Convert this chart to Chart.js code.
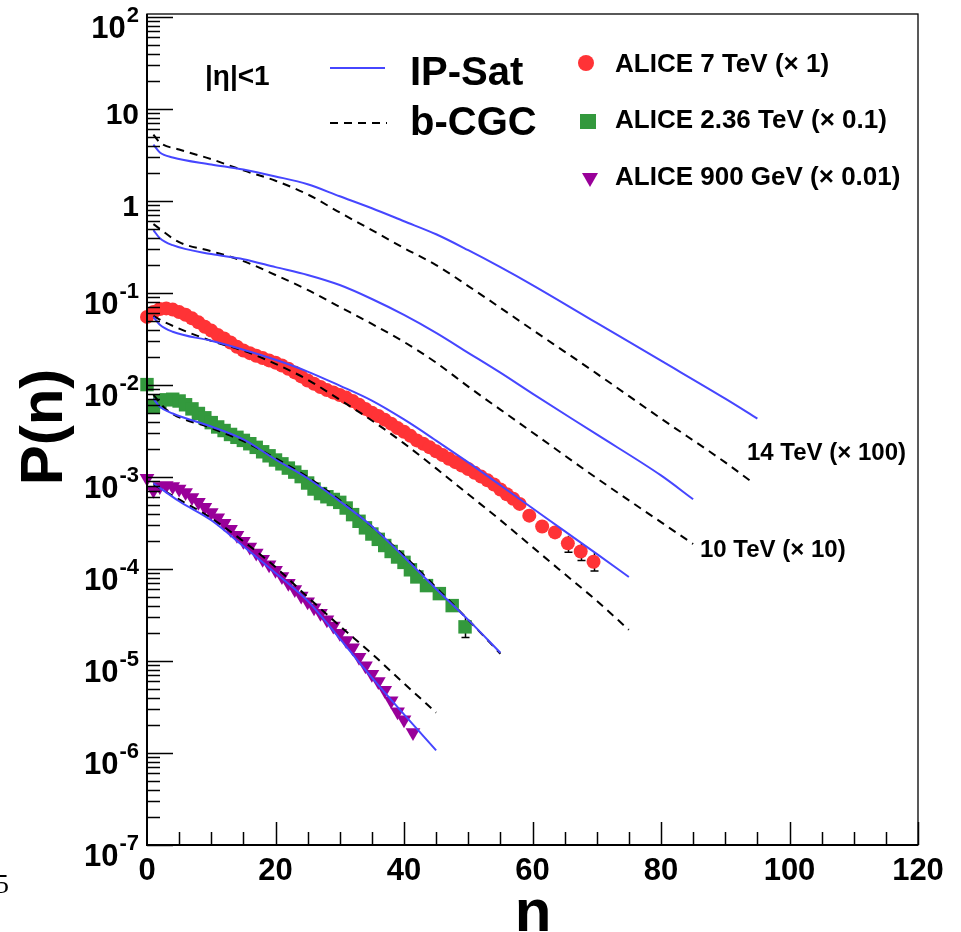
<!DOCTYPE html>
<html>
<head>
<meta charset="utf-8">
<script src="https://cdn.jsdelivr.net/npm/chart.js@4.4.1/dist/chart.umd.min.js"></script>
<style>
  html, body { margin: 0; padding: 0; background: #fff; }
  #wrap { width: 961px; height: 932px; position: relative; }
</style>
</head>
<body>
<div id="wrap"><canvas id="grafico"></canvas></div>
<script>
// Ejes
const xTicks = [0, 20, 40, 60, 80, 100, 120];
const yDecades = [-7, -6, -5, -4, -3, -2, -1, 0, 1, 2];

// IP-Sat y b-CGC, 14 TeV (x 100)
const nIpsat14 = [1, 2, 4, 10, 15, 20, 25, 30, 35, 40, 45, 50, 55, 60, 70, 80, 90, 95];
const ipsat14 = [4.1, 3.37, 2.97, 2.5, 2.2, 1.85, 1.52, 1.125, 0.834, 0.603, 0.435, 0.292, 0.191, 0.122, 0.0473, 0.01837, 0.00711, 0.00432];
const nBcgc14 = [1, 2, 5, 10, 15, 20, 25, 30, 35, 40, 45, 50, 60, 70, 80, 90, 94];
const bcgc14 = [5.27, 4.32, 3.63, 2.85, 2.15, 1.66, 1.18, 0.75, 0.482, 0.308, 0.201, 0.119, 0.0398, 0.0133, 0.00432, 0.00144, 0.000897];

// 10 TeV (x 10)
const nIpsat10 = [1, 2, 4, 10, 15, 20, 25, 30, 35, 40, 45, 50, 55, 60, 70, 80, 85];
const ipsat10 = [0.482, 0.394, 0.331, 0.265, 0.233, 0.191, 0.157, 0.122, 0.0861, 0.0578, 0.0369, 0.0224, 0.0136, 0.00805, 0.0029, 0.00104, 0.000573];
const nBcgc10 = [1, 5, 10, 15, 20, 25, 30, 35, 40, 45, 50, 55, 60, 70, 80, 85];
const bcgc10 = [0.56, 0.357, 0.285, 0.222, 0.157, 0.108, 0.0706, 0.0461, 0.0294, 0.0175, 0.0096, 0.0054, 0.00305, 0.00097, 0.000323, 0.000187];

// 7 TeV (x 1)
const nIpsat7 = [1, 2, 4, 10, 15, 20, 25, 30, 35, 40, 45, 50, 55, 60, 65, 70, 75];
const ipsat7 = [0.055, 0.0451, 0.0379, 0.0302, 0.0242, 0.0188, 0.014, 0.00984, 0.00676, 0.00422, 0.00249, 0.00144, 0.000813, 0.000458, 0.000258, 0.000146, 0.0000818];
const nBcgc7 = [1, 3, 10, 15, 20, 25, 30, 35, 40, 45, 50, 55, 60, 65, 70, 75];
const bcgc7 = [0.0564, 0.0473, 0.0302, 0.0236, 0.017, 0.0114, 0.00693, 0.00411, 0.00232, 0.00124, 0.000649, 0.00034, 0.000173, 0.0000883, 0.0000451, 0.0000218];

// 2.36 TeV (x 0.1)
const nIpsat236 = [1, 2, 4, 10, 15, 20, 25, 30, 35, 40, 45, 50, 55];
const ipsat236 = [7.1e-3, 5.8e-3, 4.9e-3, 3.54e-3, 2.56e-3, 1.55e-3, 9.7e-4, 5.46e-4, 2.92e-4, 1.35e-4, 6.06e-5, 2.8e-5, 1.23e-5];
const nBcgc236 = [1, 3, 10, 15, 20, 25, 30, 35, 40, 45, 50, 55];
const bcgc236 = [7.8e-3, 5.4e-3, 3.4e-3, 2.45e-3, 1.6e-3, 1.0e-3, 5.6e-4, 2.9e-4, 1.4e-4, 6.3e-5, 2.8e-5, 1.2e-5];

// 900 GeV (x 0.01)
const nModel900 = [1, 5, 10, 15, 20, 25, 30, 35, 40, 45];
const ipsat900 = [8.55e-4, 5.45e-4, 3.39e-4, 1.77e-4, 9.05e-5, 4.5e-5, 1.75e-5, 6.6e-6, 2.63e-6, 1.07e-6];
const bcgc900 = [8.3e-4, 5.7e-4, 3.57e-4, 2.0e-4, 1.05e-4, 4.97e-5, 2.41e-5, 1.2e-5, 5.7e-6, 2.75e-6];

// Datos ALICE
const nAlice7 = [0, 1, 2, 3, 4, 5, 6, 7, 8, 9, 10, 11, 12, 13, 14, 15, 16, 17, 18, 19,
  20, 21, 22, 23, 24, 25, 26, 27, 28, 29, 30, 31, 32, 33, 34, 35, 36, 37, 38, 39,
  40, 41, 42, 43, 44, 45, 46, 47, 48, 49, 50, 51, 52, 53, 54, 55, 56, 57, 58,
  59.5, 61.5, 63.5, 65.5, 67.5, 69.5];
const pAlice7 = [0.055, 0.062, 0.067, 0.068, 0.066, 0.062, 0.058, 0.053, 0.048, 0.043,
  0.039, 0.035, 0.032, 0.029, 0.026, 0.0237, 0.0222, 0.0208, 0.0196, 0.0185,
  0.0175, 0.0163, 0.0150, 0.0137, 0.0124, 0.0112, 0.0103, 0.0095, 0.0088, 0.0083,
  0.0078, 0.0073, 0.0067, 0.0061, 0.0055, 0.0050, 0.0046, 0.0042, 0.0038, 0.0034,
  0.0031, 0.0028, 0.0025, 0.0023, 0.0021, 0.0019, 0.00173, 0.00158, 0.00145, 0.00133,
  0.00122, 0.00111, 0.00101, 0.00092, 0.00083, 0.00073, 0.00065, 0.00058, 0.00051,
  0.00038, 0.00029, 0.00025, 0.00019, 0.000155, 0.00012];

const nAlice236 = [0, 1, 2, 3, 4, 5, 6, 7, 8, 9, 10, 11, 12, 13, 14, 15, 16, 17, 18, 19,
  20, 21, 22, 23, 24, 25, 26, 27, 28, 29, 30, 31, 32, 33, 34, 35, 36, 37, 38, 39,
  40, 41, 42, 43.5, 45.5, 47.5, 49.5];
const pAlice236 = [0.0101, 0.0058, 0.0066, 0.0069, 0.0070, 0.0067, 0.0061, 0.0055, 0.0049, 0.0044,
  0.0039, 0.0035, 0.0032, 0.0029, 0.0027, 0.0025, 0.0023, 0.0021, 0.00188, 0.00170,
  0.00153, 0.00139, 0.00125, 0.00113, 0.00101, 0.00086, 0.00074, 0.00066, 0.00061, 0.00057,
  0.00053, 0.00046, 0.00039, 0.00033, 0.00028, 0.00024, 0.00021, 0.00018, 0.000155, 0.000135,
  0.000118, 0.000098, 0.000082, 0.000066, 0.000054, 0.000040, 0.0000235];

const nAlice900 = [0, 1, 2, 3, 4, 5, 6, 7, 8, 9, 10, 11, 12, 13, 14, 15, 16, 17, 18, 19,
  20, 21, 22, 23, 24, 25, 26, 27, 28, 29, 30, 31, 32, 33, 34, 35, 36, 37, 38, 39, 40, 41.4];
const pAlice900 = [9.7e-4, 7.2e-4, 7.9e-4, 8.1e-4, 7.9e-4, 7.4e-4, 6.8e-4, 6.0e-4, 5.3e-4, 4.7e-4,
  4.1e-4, 3.6e-4, 3.15e-4, 2.7e-4, 2.33e-4, 2.0e-4, 1.73e-4, 1.49e-4, 1.28e-4, 1.11e-4,
  9.7e-5, 8.3e-5, 7.0e-5, 6.0e-5, 5.1e-5, 4.4e-5, 3.8e-5, 3.3e-5, 2.8e-5, 2.4e-5,
  2.0e-5, 1.67e-5, 1.39e-5, 1.1e-5, 8.9e-6, 7.2e-6, 6.0e-6, 4.8e-6, 3.7e-6, 2.8e-6, 2.3e-6, 1.67e-6];

// Barras de error visibles (últimos puntos)
const errN = [65.5, 67.5, 69.5, 49.5];
const errLo = [1.52e-4, 1.24e-4, 0.95e-4, 1.8e-5];
const errHi = [2.3e-4, 1.9e-4, 1.5e-4, 3.0e-5];

const AZUL = '#4646ff';
const ROJO = '#ff3336';
const VERDE = '#33993d';
const MORADO = '#990099';
const FUENTE = '"Liberation Sans", Arial, sans-serif';

function puntos(xs, ys) {
  return xs.map((x, i) => ({ x: x, y: ys[i] }));
}

function curva(xs, ys, discontinua) {
  return {
    data: puntos(xs, ys),
    showLine: true,
    borderColor: discontinua ? '#000' : AZUL,
    borderWidth: 2,
    borderDash: discontinua ? [8, 6] : [],
    pointRadius: 0,
    cubicInterpolationMode: 'monotone',
    fill: false
  };
}

function marcadores(xs, ys, color, estilo, radio, rotacion) {
  return {
    data: puntos(xs, ys),
    showLine: false,
    pointStyle: estilo,
    pointRadius: radio,
    pointRotation: rotacion,
    backgroundColor: color,
    borderColor: color,
    borderWidth: 0,
    clip: false
  };
}

// Marcos, ticks internos y textos al estilo ROOT
const marcoRoot = {
  id: 'marcoRoot',
  beforeDatasetsDraw(chart) {
    const { ctx, scales: { x, y } } = chart;
    ctx.save();
    ctx.strokeStyle = '#000';
    ctx.lineWidth = 1.5;
    ctx.beginPath();
    errN.forEach((n, i) => {
      const px = Math.round(x.getPixelForValue(n)) + 0.5;
      const lo = y.getPixelForValue(errLo[i]);
      const hi = y.getPixelForValue(errHi[i]);
      ctx.moveTo(px, lo); ctx.lineTo(px, hi);
      ctx.moveTo(px - 4, lo); ctx.lineTo(px + 4, lo);
    });
    ctx.stroke();
    ctx.restore();
  },
  afterDatasetsDraw(chart) {
    const { ctx, chartArea: a, scales: { x, y } } = chart;
    ctx.save();
    ctx.strokeStyle = '#000';
    ctx.lineWidth = 1.3;
    ctx.strokeRect(a.left, a.top, a.right - a.left, a.bottom - a.top);
    ctx.lineWidth = 2;
    ctx.beginPath();
    ctx.moveTo(a.left, a.top); ctx.lineTo(a.left, a.bottom); ctx.lineTo(a.right, a.bottom);
    ctx.stroke();

    ctx.lineWidth = 1.5;
    ctx.beginPath();
    for (let v = 5; v <= 120; v += 5) {
      const px = Math.round(x.getPixelForValue(v)) + 0.5;
      const largo = v % 20 === 0 ? 23 : 13;
      ctx.moveTo(px, a.bottom); ctx.lineTo(px, a.bottom - largo);
    }
    yDecades.forEach(e => {
      for (let m = 1; m <= 9; m++) {
        const v = m * Math.pow(10, e);
        if (v > y.max) break;
        const py = Math.round(y.getPixelForValue(v)) + 0.5;
        const largo = m === 1 ? 26 : 13;
        ctx.moveTo(a.left, py); ctx.lineTo(a.left + largo, py);
      }
    });
    ctx.stroke();
    ctx.restore();
  },
  afterDraw(chart) {
    const { ctx, scales: { y } } = chart;
    ctx.save();
    ctx.fillStyle = '#000';
    ctx.textAlign = 'right';
    ctx.textBaseline = 'alphabetic';
    const derecha = 139;
    yDecades.forEach(e => {
      const py = y.getPixelForValue(Math.pow(10, e));
      ctx.font = 'bold 30px ' + FUENTE;
      if (e === 0 || e === 1) {
        ctx.fillText(e === 0 ? '1' : '10', derecha, py + 15);
      } else {
        ctx.font = 'bold 22px ' + FUENTE;
        const exp = String(e);
        const w = ctx.measureText(exp).width;
        ctx.fillText(exp, derecha, py + 5);
        ctx.font = 'bold 31px ' + FUENTE;
        ctx.fillText('10', derecha - w - 1, py + 21);
      }
    });

    // títulos de ejes
    ctx.font = 'bold 60px ' + FUENTE;
    ctx.textAlign = 'center';
    ctx.save();
    ctx.translate(62, 427);
    ctx.rotate(-Math.PI / 2);
    ctx.fillText('P(n)', 0, 0);
    ctx.restore();
    ctx.fillText('n', 533, 931);

    // leyenda
    ctx.textAlign = 'left';
    ctx.font = 'bold 28px ' + FUENTE;
    ctx.fillText('|\u03b7|<1', 205, 85);
    ctx.font = 'bold 40px ' + FUENTE;
    ctx.fillText('IP-Sat', 410, 85);
    ctx.fillText('b-CGC', 410, 135);

    ctx.lineWidth = 2;
    ctx.strokeStyle = AZUL;
    ctx.beginPath(); ctx.moveTo(330, 68); ctx.lineTo(385, 68); ctx.stroke();
    ctx.strokeStyle = '#000';
    ctx.setLineDash([8, 6]);
    ctx.beginPath(); ctx.moveTo(330, 123); ctx.lineTo(387, 123); ctx.stroke();
    ctx.setLineDash([]);

    ctx.fillStyle = ROJO;
    ctx.beginPath(); ctx.arc(586, 63, 8, 0, Math.PI * 2); ctx.fill();
    ctx.fillStyle = VERDE;
    ctx.fillRect(580, 114, 16, 15);
    ctx.fillStyle = MORADO;
    ctx.beginPath(); ctx.moveTo(582, 173); ctx.lineTo(598, 173); ctx.lineTo(590, 187); ctx.closePath(); ctx.fill();

    ctx.fillStyle = '#000';
    ctx.font = 'bold 26px ' + FUENTE;
    ctx.fillText('ALICE 7 TeV (\u00d7 1)', 615, 72);
    ctx.fillText('ALICE 2.36 TeV (\u00d7 0.1)', 615, 128);
    ctx.fillText('ALICE 900 GeV (\u00d7 0.01)', 615, 185);

    ctx.font = 'bold 24px ' + FUENTE;
    ctx.fillText('14 TeV (\u00d7 100)', 747, 460);
    ctx.fillText('10 TeV (\u00d7 10)', 700, 557);

    ctx.font = '28px "Liberation Serif", serif';
    ctx.fillText('5', -5, 893);
    ctx.restore();
  }
};

function crearGrafico() {
  const ctx = document.getElementById('grafico');
  if (!ctx) {
    console.error('No se encontró el canvas');
    return;
  }
  new Chart(ctx, {
    type: 'scatter',
    data: {
      datasets: [
        curva(nIpsat14, ipsat14, false),
        curva(nBcgc14, bcgc14, true),
        curva(nIpsat10, ipsat10, false),
        curva(nBcgc10, bcgc10, true),
        curva(nIpsat7, ipsat7, false),
        curva(nBcgc7, bcgc7, true),
        curva(nIpsat236, ipsat236, false),
        curva(nBcgc236, bcgc236, true),
        curva(nModel900, ipsat900, false),
        curva(nModel900, bcgc900, true),
        marcadores(nAlice7, pAlice7, ROJO, 'circle', 7, 0),
        marcadores(nAlice236, pAlice236, VERDE, 'rect', 9.5, 0),
        marcadores(nAlice900, pAlice900, MORADO, 'triangle', 8.5, 180)
      ]
    },
    options: {
      responsive: true,
      maintainAspectRatio: false,
      animation: false,
      events: [],
      layout: { padding: { top: 14, right: 43, left: 0, bottom: 0 } },
      plugins: { legend: { display: false }, tooltip: { enabled: false } },
      scales: {
        x: {
          type: 'linear',
          min: 0,
          max: 120,
          afterBuildTicks: s => { s.ticks = xTicks.map(v => ({ value: v })); },
          afterFit: s => { s.height = 87; },
          grid: { display: false, drawTicks: false },
          border: { display: false },
          ticks: {
            color: '#000',
            padding: 8,
            maxRotation: 0,
            autoSkip: false,
            font: { family: FUENTE, size: 31, weight: 'bold' }
          }
        },
        y: {
          type: 'logarithmic',
          min: 1e-7,
          max: 107.8,
          afterFit: s => { s.width = 147; },
          grid: { display: false, drawTicks: false },
          border: { display: false },
          ticks: { display: false }
        }
      }
    },
    plugins: [marcoRoot]
  });
}

if (document.readyState === 'loading') {
  document.addEventListener('DOMContentLoaded', crearGrafico);
} else {
  crearGrafico();
}
</script>
</body>
</html>
